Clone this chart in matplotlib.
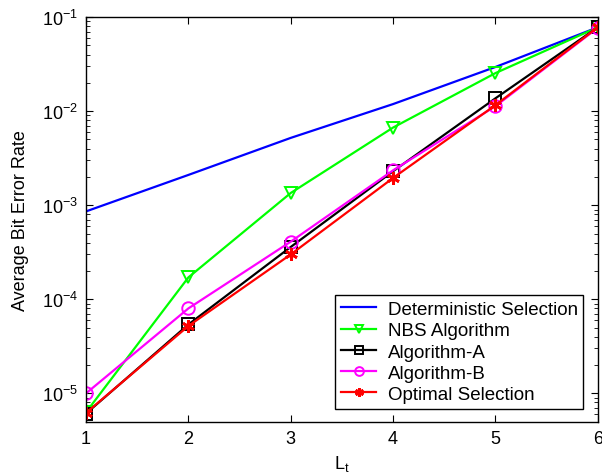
import matplotlib
import matplotlib.pyplot as plt
from matplotlib.ticker import LogLocator, NullFormatter

matplotlib.use("Agg")

plt.rcParams.update(
    {
        "font.family": "Liberation Sans",
        "font.size": 11,
        "mathtext.fontset": "custom",
        "mathtext.rm": "Liberation Sans",
        "mathtext.it": "Liberation Sans:italic",
        "xtick.direction": "in",
        "ytick.direction": "in",
        "xtick.top": True,
        "ytick.right": True,
        "axes.linewidth": 1.0,
    }
)

L_T = [1, 2, 3, 4, 5, 6]
DETERMINISTIC = [8.6e-4, 2.1e-3, 5.2e-3, 1.19e-2, 2.95e-2, 7.8e-2]
NBS = [6.3e-6, 1.71e-4, 1.35e-3, 6.7e-3, 2.54e-2, 7.8e-2]
ALGO_A = [6.1e-6, 5.4e-5, 3.6e-4, 2.3e-3, 1.37e-2, 7.8e-2]
ALGO_B = [1.0e-5, 8.0e-5, 4.1e-4, 2.35e-3, 1.13e-2, 7.7e-2]
OPTIMAL = [6.2e-6, 5.2e-5, 3.0e-4, 1.95e-3, 1.16e-2, 7.8e-2]


def main():
    fig = plt.figure(figsize=(6.02, 4.77), dpi=100)
    ax = fig.add_axes([0.143, 0.114, 0.85, 0.848])

    ax.semilogy(L_T, DETERMINISTIC, color="#0000FF", lw=1.6, label="Deterministic Selection")
    ax.semilogy(L_T, NBS, color="#00FF00", lw=1.6, marker="v", ms=9, mfc="none", mew=1.4,
                label="NBS Algorithm")
    ax.semilogy(L_T, ALGO_A, color="black", lw=1.6, marker="s", ms=8.5, mfc="none", mew=1.4,
                label="Algorithm-A")
    ax.semilogy(L_T, ALGO_B, color="#FF00FF", lw=1.6, marker="o", ms=9, mfc="none", mew=1.4,
                label="Algorithm-B")
    ax.semilogy(L_T, OPTIMAL, color="#FF0000", lw=1.6, marker=(6, 2, 0), ms=9, mew=2.0,
                label="Optimal Selection")

    ax.set_xlim(1, 6)
    ax.set_ylim(5e-6, 1e-1)
    ax.set_xticks(L_T)
    ax.yaxis.set_major_locator(LogLocator(base=10, numticks=10))
    ax.yaxis.set_minor_locator(LogLocator(base=10, subs=range(2, 10), numticks=20))
    ax.yaxis.set_minor_formatter(NullFormatter())
    ax.tick_params(which="major", length=5, labelsize=13, pad=6)
    ax.tick_params(which="minor", length=3)

    ax.set_xlabel(r"L$_\mathrm{t}$", fontsize=13, labelpad=4)
    ax.set_ylabel("Average Bit Error Rate", fontsize=13, labelpad=9)

    leg = ax.legend(loc="lower right", bbox_to_anchor=(0.972, 0.032), fontsize=13.5,
                    frameon=True, fancybox=False, edgecolor="black", framealpha=1,
                    handlelength=1.9, handletextpad=0.6, borderpad=0.3,
                    labelspacing=0.22, borderaxespad=0, markerscale=0.7)
    leg.get_frame().set_linewidth(1.0)

    fig.savefig("out.png", dpi=100, facecolor="white")
    plt.close(fig)


if __name__ == "__main__":
    main()
